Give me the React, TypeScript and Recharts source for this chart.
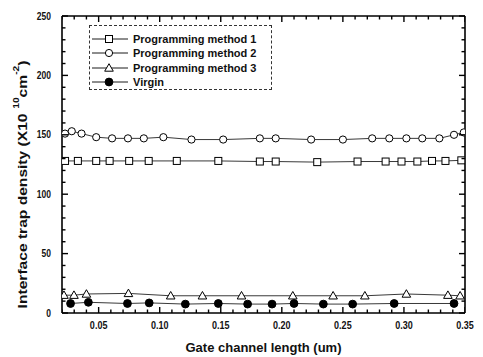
import React from 'react';
import { ComposedChart, Line, Scatter, XAxis, YAxis, Legend } from 'recharts';

// Gate channel length (um) / interface trap density (x10^10 cm^-2)
const method1X = [0.0225, 0.033, 0.048, 0.059, 0.075, 0.091, 0.114, 0.148, 0.182, 0.195, 0.229, 0.262, 0.285, 0.298, 0.311, 0.323, 0.334, 0.347];
const method1Y = [128, 128, 128, 128, 128, 128, 128, 128, 127.5, 127.5, 127, 127.5, 127.5, 127.5, 127.5, 128, 128, 128.5];

const method2X = [0.0225, 0.028, 0.036, 0.048, 0.061, 0.074, 0.087, 0.103, 0.126, 0.152, 0.182, 0.195, 0.224, 0.25, 0.274, 0.288, 0.302, 0.315, 0.329, 0.341, 0.349];
const method2Y = [151, 153, 151, 148, 147, 147, 147, 148, 146, 146, 147, 147, 146, 146, 147, 147, 147, 147, 147, 150, 152];

const method3X = [0.0216, 0.0298, 0.04, 0.0744, 0.109, 0.135, 0.167, 0.209, 0.242, 0.268, 0.302, 0.336, 0.346];
const method3Y = [15, 15, 16, 16.5, 14.5, 14.5, 14.5, 14.5, 14.5, 14.5, 16, 15, 14.5];

const virginX = [0.027, 0.0416, 0.0736, 0.0914, 0.121, 0.148, 0.172, 0.192, 0.21, 0.234, 0.258, 0.292, 0.341];
const virginY = [8, 9, 8, 8.5, 7.5, 8, 7.5, 7.5, 8, 7.5, 7.5, 8, 8];

// ticks (minor every 0.01 / 10, labelled every 0.05 / 50)
const xTicks = [0.02, 0.03, 0.04, 0.05, 0.06, 0.07, 0.08, 0.09, 0.1, 0.11, 0.12, 0.13, 0.14, 0.15, 0.16, 0.17, 0.18, 0.19, 0.2, 0.21, 0.22, 0.23, 0.24, 0.25, 0.26, 0.27, 0.28, 0.29, 0.3, 0.31, 0.32, 0.33, 0.34, 0.35];
const yTicks = [0, 10, 20, 30, 40, 50, 60, 70, 80, 90, 100, 110, 120, 130, 140, 150, 160, 170, 180, 190, 200, 210, 220, 230, 240, 250];
const X_DOMAIN = [0.02, 0.35];
const Y_DOMAIN = [0, 250];

const pairs = (xs: number[], ys: number[]) => xs.map((x, i) => ({ x, y: ys[i] }));

const SERIES = [
  { name: 'Programming method 1', data: pairs(method1X, method1Y), marker: 'square' },
  { name: 'Programming method 2', data: pairs(method2X, method2Y), marker: 'circle' },
  { name: 'Programming method 3', data: pairs(method3X, method3Y), marker: 'triangle' },
  { name: 'Virgin', data: pairs(virginX, virginY), marker: 'dot' },
];

// x tick marks sit on the bottom and top frame lines
const xMarksBottom = xTicks.map((x) => ({ x, y: Y_DOMAIN[0] }));
const xMarksTop = xTicks.map((x) => ({ x, y: Y_DOMAIN[1] }));

const FONT = "'Liberation Sans', Arial, Helvetica, sans-serif";

function Marker({ kind, cx, cy }: { kind: string; cx: number; cy: number }) {
  if (kind === 'square')
    return <rect x={cx - 3.5} y={cy - 3.5} width={7} height={7} fill="#fff" stroke="#000" strokeWidth={1} />;
  if (kind === 'circle')
    return <circle cx={cx} cy={cy} r={3.6} fill="#fff" stroke="#000" strokeWidth={1} />;
  if (kind === 'triangle')
    return <polygon points={`${cx},${cy - 4.3} ${cx - 4.3},${cy + 3.2} ${cx + 4.3},${cy + 3.2}`} fill="#fff" stroke="#000" strokeWidth={1} />;
  return <circle cx={cx} cy={cy} r={3.9} fill="#000" stroke="#000" />;
}

const isMajorX = (v: number) => Math.round(v * 100) % 5 === 0;
const isMajorY = (v: number) => v % 50 === 0;

// inward tick mark drawn at a scatter point (dir -1 = up, +1 = down)
const xMark = (dir: number) => (p: any) => {
  const len = isMajorX(p.payload.x) ? 6 : 3.5;
  return <path d={`M${p.cx},${p.cy}L${p.cx},${p.cy + dir * len}`} stroke="#000" strokeWidth={1.4} fill="none" />;
};

const xLabel = (props: any) => {
  const x = Number(props.x);
  const y = Number(props.y);
  const v = props.payload.value;
  if (!isMajorX(v) || v < 0.03) return <g />;
  return (
    <text transform={`translate(${x} ${y + 16}) scale(0.82 1)`} textAnchor="middle" fontSize={11} fontWeight="bold" fontFamily={FONT} fill="#111">
      {v.toFixed(2)}
    </text>
  );
};

const yTick = (side: string) => (props: any) => {
  const x = Number(props.x);
  const y = Number(props.y);
  const v = props.payload.value;
  const major = isMajorY(v);
  const len = major ? 6 : 3.5;
  const dir = side === 'right' ? -1 : 1;
  return (
    <g>
      <path d={`M${x},${y}L${x + dir * len},${y}`} stroke="#000" strokeWidth={1.4} fill="none" />
      {side !== 'right' && major && (
        <text transform={`translate(${x - 11} ${y + 3.5}) scale(0.85 1)`} textAnchor="end" fontSize={10} fontWeight="bold" fontFamily={FONT} fill="#111">
          {v}
        </text>
      )}
    </g>
  );
};

function LegendBox(props: any) {
  const items = (props.payload ?? []).filter((it: any) => SERIES.some((s) => s.name === it.value));
  return (
    <div style={{ border: '1px dashed #333', width: 181, height: 57, paddingTop: 6, boxSizing: 'content-box', background: '#fff' }}>
      {items.map((it: any) => {
        const s = SERIES.find((d) => d.name === it.value);
        return (
          <div key={it.value} style={{ display: 'flex', alignItems: 'center', height: 14.3, paddingLeft: 2 }}>
            <svg width={36} height={14} style={{ display: 'block' }}>
              <line x1={0} x2={36} y1={7} y2={7} stroke="#000" strokeWidth={0.9} />
              <Marker kind={s ? s.marker : 'dot'} cx={17} cy={7} />
            </svg>
            <span style={{ marginLeft: 5, fontFamily: FONT, fontSize: 11, fontWeight: 'bold', color: '#111', lineHeight: '14px' }}>
              {it.value}
            </span>
          </div>
        );
      })}
    </div>
  );
}

export default function App() {
  return (
    <div style={{ position: 'absolute', left: 0, top: 0, width: 483, height: 357, background: '#fff' }}>
      <ComposedChart width={483} height={357} margin={{ top: 15, right: 17, bottom: 0, left: 0 }}>
        <XAxis
          xAxisId="bottom"
          dataKey="x"
          type="number"
          domain={X_DOMAIN}
          allowDataOverflow
          ticks={xTicks}
          interval={0}
          height={44}
          tickSize={0}
          tickMargin={0}
          tickLine={false}
          axisLine={{ stroke: '#000', strokeWidth: 1.6 }}
          tick={xLabel}
          label={{
            content: (p: any) => {
              const vb = p.viewBox;
              return (
                <text x={vb.x + vb.width / 2} y={vb.y + 39} textAnchor="middle" fontSize={13} fontWeight="bold" fontFamily={FONT} fill="#111">
                  Gate channel length (um)
                </text>
              );
            },
          }}
        />
        <XAxis
          xAxisId="top"
          orientation="top"
          type="number"
          domain={X_DOMAIN}
          allowDataOverflow
          height={1}
          tick={false}
          tickLine={false}
          axisLine={{ stroke: '#000', strokeWidth: 1.6 }}
        />
        <YAxis
          yAxisId="left"
          type="number"
          domain={Y_DOMAIN}
          allowDataOverflow
          ticks={yTicks}
          interval={0}
          width={62}
          tickSize={0}
          tickMargin={0}
          tickLine={false}
          axisLine={{ stroke: '#000', strokeWidth: 1.6 }}
          tick={yTick('left')}
          label={{
            content: (p: any) => {
              const vb = p.viewBox;
              const cx = vb.x + 22;
              const cy = vb.y + vb.height / 2 + 20;
              return (
                <text transform={`translate(${cx} ${cy}) rotate(-90) scale(1.2 1)`} textAnchor="middle" dominantBaseline="central" fontSize={13} fontWeight="bold" fontFamily={FONT} fill="#111">
                  Interface trap density (X10
                  <tspan fontSize={8.5} dx={4} dy={-6}>10</tspan>
                  <tspan dy={6}>cm</tspan>
                  <tspan fontSize={8.5} dy={-6}>-2</tspan>
                  <tspan dy={6}>)</tspan>
                </text>
              );
            },
          }}
        />
        <YAxis
          yAxisId="right"
          orientation="right"
          type="number"
          domain={Y_DOMAIN}
          allowDataOverflow
          ticks={yTicks}
          interval={0}
          width={1}
          tickSize={0}
          tickMargin={0}
          tickLine={false}
          axisLine={{ stroke: '#000', strokeWidth: 1.6 }}
          tick={yTick('right')}
        />
        <Legend
          layout="vertical"
          align="center"
          verticalAlign="middle"
          content={<LegendBox />}
          wrapperStyle={{ left: 89, top: 25, width: 183 }}
        />
        <Scatter data={xMarksBottom} dataKey="y" xAxisId="bottom" yAxisId="left" legendType="none" isAnimationActive={false} shape={xMark(-1)} />
        <Scatter data={xMarksTop} dataKey="y" xAxisId="bottom" yAxisId="left" legendType="none" isAnimationActive={false} shape={xMark(1)} />
        {SERIES.map((s) => (
          <Line
            key={s.name}
            name={s.name}
            data={s.data}
            dataKey="y"
            xAxisId="bottom"
            yAxisId="left"
            type="linear"
            stroke="#222"
            strokeWidth={0.9}
            isAnimationActive={false}
            dot={(p: any) => <Marker key={`${s.name}-${p.index}`} kind={s.marker} cx={p.cx} cy={p.cy} />}
            activeDot={false}
          />
        ))}
      </ComposedChart>
    </div>
  );
}
